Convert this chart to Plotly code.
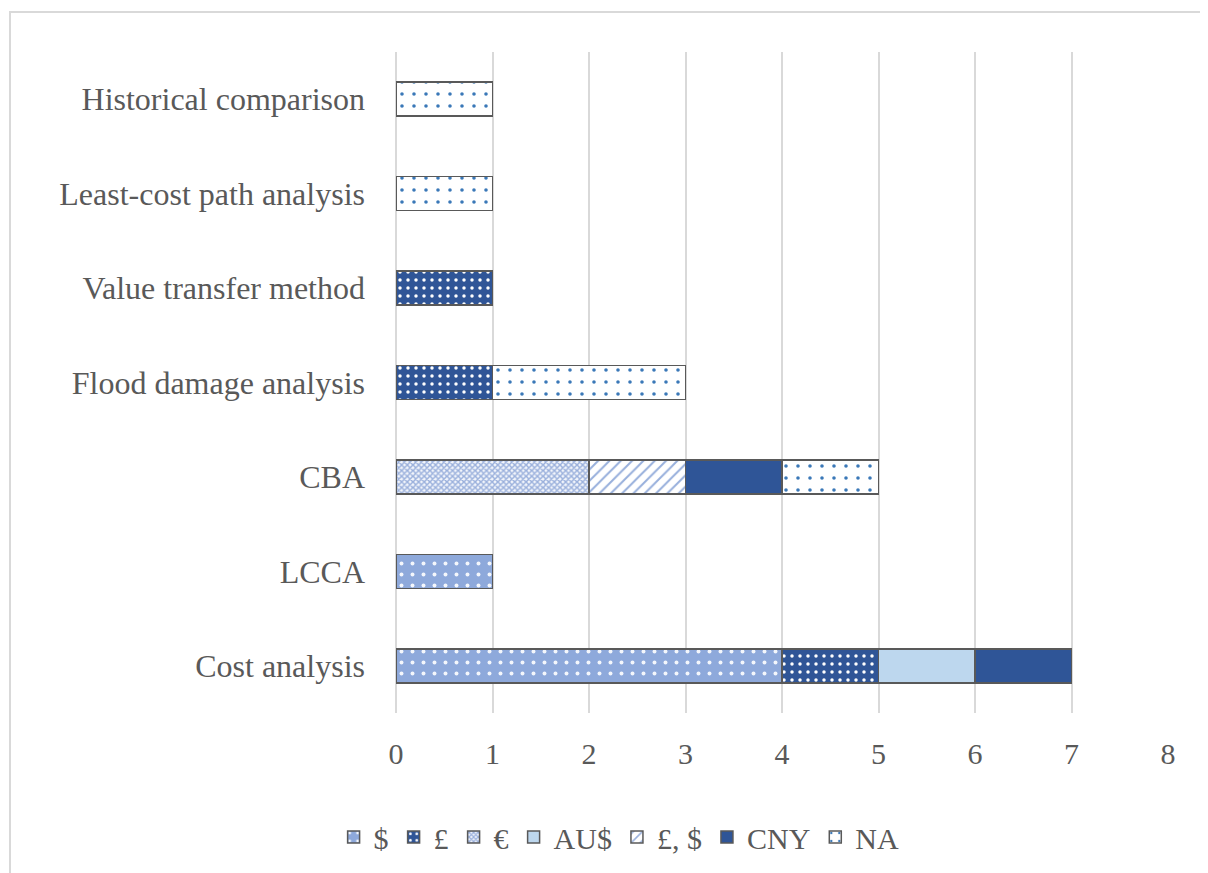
import plotly.graph_objects as go

categories = ["Cost analysis", "LCCA", "CBA", "Flood damage analysis",
              "Value transfer method", "Least-cost path analysis", "Historical comparison"]

usd = [4, 1, 0, 0, 0, 0, 0]
gbp = [1, 0, 0, 1, 1, 0, 0]
eur = [0, 0, 2, 0, 0, 0, 0]
aud = [1, 0, 0, 0, 0, 0, 0]
gbp_usd = [0, 0, 1, 0, 0, 0, 0]
cny = [1, 0, 1, 0, 0, 0, 0]
na = [0, 0, 1, 2, 0, 1, 1]

x_ticks = [0, 1, 2, 3, 4, 5, 6, 7, 8]

series = [
    ("$", usd, dict(shape=".", bgcolor="#8EA9DB", fgcolor="#F4F7FC", size=11, solidity=0.1)),
    ("£", gbp, dict(shape=".", bgcolor="#2F5597", fgcolor="#FFFFFF", size=8, solidity=0.15)),
    ("€", eur, dict(shape="x", bgcolor="#F2F5FB", fgcolor="#9AB0DC", size=4, solidity=0.6)),
    ("AU$", aud, None),
    ("£, $", gbp_usd, dict(shape="/", bgcolor="#FFFFFF", fgcolor="#97AFDC", size=8, solidity=0.25)),
    ("CNY", cny, None),
    ("NA", na, dict(shape=".", bgcolor="#FFFFFF", fgcolor="#3A78B8", size=12, solidity=0.07)),
]
solid = {"AU$": "#BDD7EE", "CNY": "#2F5597"}

fig = go.Figure()
for name, vals, pat in series:
    marker = dict(line=dict(color="#595959", width=1.5))
    if pat is None:
        marker["color"] = solid[name]
    else:
        marker["color"] = pat["bgcolor"]
        marker["pattern"] = dict(shape=pat["shape"], bgcolor=pat["bgcolor"],
                                 fgcolor=pat["fgcolor"], size=pat["size"],
                                 solidity=pat["solidity"], fillmode="replace")
    fig.add_trace(go.Bar(y=categories, x=vals, name=name, orientation="h",
                         marker=marker, width=0.36))

font = "Liberation Serif, DejaVu Serif, serif"
fig.update_layout(
    barmode="stack",
    width=1208, height=873,
    margin=dict(l=388, r=48, t=44, b=168),
    paper_bgcolor="white", plot_bgcolor="white",
    font=dict(family=font, size=30, color="#595959"),
    xaxis=dict(range=[0, 8], tickvals=x_ticks, showgrid=True, gridcolor="#D9D9D9",
               gridwidth=1.5, zeroline=True, zerolinecolor="#D9D9D9", zerolinewidth=1.5,
               showline=False, ticklabelstandoff=20, tickfont=dict(size=30)),
    yaxis=dict(categoryorder="array", categoryarray=categories, showgrid=False,
               showline=False, ticklabelstandoff=30, tickfont=dict(size=32),
               range=[-0.5, 6.5]),
    legend=dict(orientation="h", x=0.289, xanchor="center", y=-0.1876, yanchor="middle",
                font=dict(size=30), itemwidth=30, traceorder="normal"),
    showlegend=True,
    shapes=[dict(type="rect", xref="paper", yref="paper", x0=-0.5, x1=1.07,
                 y0=-0.27, y1=1.0605, line=dict(color="#D9D9D9", width=2),
                 fillcolor="rgba(0,0,0,0)", layer="below")],
)

fig.write_html("out.html")
